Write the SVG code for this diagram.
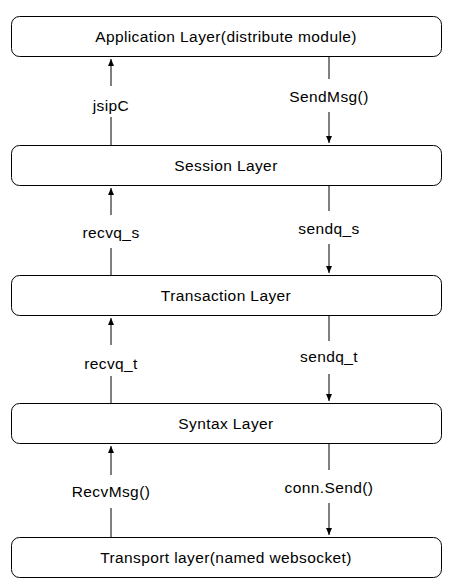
<svg xmlns="http://www.w3.org/2000/svg" width="452" height="584" viewBox="0 0 452 584">
<style>
.box{fill:#fff;stroke:#000;stroke-width:1}
.t{font-family:"Liberation Sans",Arial,sans-serif;font-size:15.5px;letter-spacing:0.4px;fill:#000;text-anchor:middle}
.c{stroke:#000;stroke-width:1;fill:none}
</style>
<defs>
<marker id="ah" markerWidth="8" markerHeight="10" refX="7" refY="4" orient="auto" markerUnits="userSpaceOnUse" viewBox="0 0 8 8">
<path d="M0,1 L7,4 L0,7 Z" fill="#000"/>
</marker>
</defs>
<rect width="452" height="584" fill="#fff"/>
<g id="connectors">
<line class="c" x1="111" y1="145" x2="111" y2="117"/>
<line class="c" x1="111" y1="86" x2="111" y2="59" marker-end="url(#ah)"/>
<text class="t" x="111" y="111">jsipC</text>
<line class="c" x1="329" y1="56" x2="329" y2="79"/>
<line class="c" x1="329" y1="112" x2="329" y2="143" marker-end="url(#ah)"/>
<text class="t" x="329" y="102">SendMsg()</text>

<line class="c" x1="111" y1="275" x2="111" y2="248"/>
<line class="c" x1="111" y1="215" x2="111" y2="188" marker-end="url(#ah)"/>
<text class="t" x="111" y="238">recvq_s</text>
<line class="c" x1="329" y1="185" x2="329" y2="211"/>
<line class="c" x1="329" y1="244" x2="329" y2="273" marker-end="url(#ah)"/>
<text class="t" x="329" y="234">sendq_s</text>

<line class="c" x1="111" y1="403" x2="111" y2="376"/>
<line class="c" x1="111" y1="345" x2="111" y2="318" marker-end="url(#ah)"/>
<text class="t" x="111" y="369">recvq_t</text>
<line class="c" x1="329" y1="315" x2="329" y2="341"/>
<line class="c" x1="329" y1="374" x2="329" y2="401" marker-end="url(#ah)"/>
<text class="t" x="329" y="362">sendq_t</text>

<line class="c" x1="111" y1="537" x2="111" y2="508"/>
<line class="c" x1="111" y1="475" x2="111" y2="446" marker-end="url(#ah)"/>
<text class="t" x="111" y="497">RecvMsg()</text>
<line class="c" x1="329" y1="443" x2="329" y2="470"/>
<line class="c" x1="329" y1="503" x2="329" y2="535" marker-end="url(#ah)"/>
<text class="t" x="329" y="493">conn.Send()</text>
</g>
<g id="app"><rect class="box" x="11.5" y="16.5" width="430" height="40" rx="8"/><text class="t" x="226" y="42">Application Layer(distribute module)</text></g>
<g id="session"><rect class="box" x="11.5" y="145.5" width="430" height="40" rx="8"/><text class="t" x="226" y="171">Session Layer</text></g>
<g id="transaction"><rect class="box" x="11.5" y="275.5" width="430" height="40" rx="8"/><text class="t" x="226" y="301">Transaction Layer</text></g>
<g id="syntax"><rect class="box" x="11.5" y="403.5" width="430" height="40" rx="8"/><text class="t" x="226" y="429">Syntax Layer</text></g>
<g id="transport"><rect class="box" x="11.5" y="537.5" width="430" height="40" rx="8"/><text class="t" x="226" y="563">Transport layer(named websocket)</text></g>
</svg>
